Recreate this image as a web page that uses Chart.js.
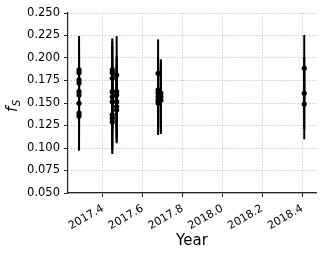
<!DOCTYPE html>
<html>
<head>
<meta charset="utf-8">
<script src="https://cdn.jsdelivr.net/npm/chart.js@4.4.1/dist/chart.umd.min.js"></script>
<style>
  html, body { margin: 0; padding: 0; background: #fff; }
</style>
</head>
<body>
<canvas id="fsChart" width="328" height="258"></canvas>
<script>
// observation date (decimal year), f_S value and its error
const years = [
  2017.28, 2017.28, 2017.28, 2017.28, 2017.28, 2017.28, 2017.28, 2017.28, 2017.28,
  2017.447, 2017.447, 2017.447, 2017.447, 2017.447, 2017.447, 2017.447, 2017.447, 2017.447,
  2017.469, 2017.469, 2017.469, 2017.469, 2017.469, 2017.469,
  2017.677, 2017.677, 2017.677, 2017.677, 2017.677, 2017.677,
  2017.691, 2017.691, 2017.691,
  2018.411, 2018.411, 2018.411
];
const fsValues = [
  0.1867, 0.1837, 0.1756, 0.1722, 0.1626, 0.1589, 0.1497, 0.1389, 0.1356,
  0.1867, 0.1837, 0.1774, 0.1626, 0.1570, 0.1515, 0.1367, 0.1330, 0.1290,
  0.1810, 0.1626, 0.1590, 0.1515, 0.1460, 0.1422,
  0.1830, 0.1644, 0.1610, 0.1567, 0.1530, 0.1500,
  0.1610, 0.1570, 0.1530,
  0.1886, 0.1608, 0.1489
];
const fsErrors = [
  0.0377, 0.0380, 0.0390, 0.0380, 0.0400, 0.0390, 0.0380, 0.0390, 0.0386,
  0.0352, 0.0350, 0.0360, 0.0355, 0.0360, 0.0350, 0.0355, 0.0360, 0.0357,
  0.0434, 0.0400, 0.0410, 0.0400, 0.0390, 0.0370,
  0.0377, 0.0370, 0.0380, 0.0375, 0.0370, 0.0356,
  0.0376, 0.0380, 0.0374,
  0.0370, 0.0400, 0.0392
];
const xTicks = [2017.4, 2017.6, 2017.8, 2018.0, 2018.2, 2018.4];
const yTicks = [0.050, 0.075, 0.100, 0.125, 0.150, 0.175, 0.200, 0.225, 0.250];

const font = 'DejaVu Sans';

const errorBars = {
  id: 'errorBars',
  beforeDatasetsDraw(chart) {
    const { ctx, scales: { x, y } } = chart;
    ctx.save();
    ctx.strokeStyle = '#000';
    ctx.lineWidth = 2;
    years.forEach((yr, i) => {
      const px = x.getPixelForValue(yr);
      ctx.beginPath();
      ctx.moveTo(px, y.getPixelForValue(fsValues[i] - fsErrors[i]));
      ctx.lineTo(px, y.getPixelForValue(fsValues[i] + fsErrors[i]));
      ctx.stroke();
    });
    ctx.restore();
  }
};

// y label f_S with a subscript, rotated
const yLabel = {
  id: 'yLabel',
  afterDraw(chart) {
    const ctx = chart.ctx;
    ctx.save();
    ctx.translate(17, 112);
    ctx.rotate(-Math.PI / 2);
    ctx.fillStyle = '#000';
    ctx.textBaseline = 'alphabetic';
    ctx.font = 'italic 15px "' + font + '"';
    ctx.fillText('f', 0, 0);
    const w = ctx.measureText('f').width;
    ctx.font = 'italic 10.5px "' + font + '"';
    ctx.fillText('S', w + 0.5, 2.5);
    ctx.restore();
  }
};

new Chart(document.getElementById('fsChart'), {
  type: 'scatter',
  data: {
    datasets: [{
      data: years.map((yr, i) => ({ x: yr, y: fsValues[i] })),
      backgroundColor: '#000',
      borderWidth: 0,
      pointRadius: 2.6
    }]
  },
  options: {
    responsive: false,
    animation: false,
    layout: { padding: { top: 13, right: 12, left: 0, bottom: 0 } },
    plugins: { legend: { display: false }, tooltip: { enabled: false } },
    scales: {
      x: {
        type: 'linear',
        min: 2017.2246,
        max: 2018.47,
        afterBuildTicks: s => { s.ticks = xTicks.map(v => ({ value: v })); },
        afterFit: s => { s.height = 65; },
        ticks: {
          color: '#000',
          font: { family: font, size: 11 },
          minRotation: 30,
          maxRotation: 30,
          padding: 5,
          callback: v => v.toFixed(1)
        },
        grid: {
          color: '#b8b8b8',
          lineWidth: 0.8,
          tickColor: '#222',
          tickLength: 4,
          tickWidth: 1
        },
        border: { color: '#222', width: 1.2, dash: [1.2, 1.6] },
        title: {
          display: true,
          text: 'Year',
          color: '#000',
          font: { family: font, size: 15 },
          padding: { top: 0, bottom: 8 }
        }
      },
      y: {
        min: 0.05,
        max: 0.25,
        afterBuildTicks: s => { s.ticks = yTicks.map(v => ({ value: v })); },
        afterFit: s => { s.width = 68; },
        ticks: {
          color: '#000',
          font: { family: font, size: 11.5 },
          padding: 4,
          callback: v => v.toFixed(3)
        },
        grid: {
          color: '#b8b8b8',
          lineWidth: 0.8,
          tickColor: '#222',
          tickLength: 4,
          tickWidth: 1
        },
        border: { color: '#222', width: 1.2, dash: [1.2, 1.6] }
      }
    }
  },
  plugins: [errorBars, yLabel]
});
</script>
</body>
</html>
